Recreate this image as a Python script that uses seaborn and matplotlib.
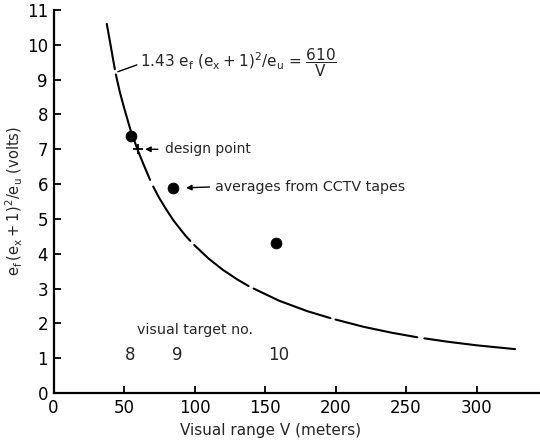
import numpy as np
import pandas as pd
import matplotlib
matplotlib.use("Agg")
import matplotlib.pyplot as plt
import seaborn as sns

# ---- data ----
# curve (drawn as broken segments)
curve_seg = [1, 1, 1,
             2, 2, 2, 2, 2, 2, 2,
             3, 3, 3, 3, 3, 3, 3,
             4, 4, 4, 4, 4,
             5, 5, 5, 5,
             6, 6, 6, 6,
             7, 7, 7, 7]
curve_v = [37.8, 40.0, 43.5,
           44.2, 47.0, 50.0, 55.0, 60.0, 64.0, 68.5,
           70.7, 75.0, 80.0, 85.0, 91.0, 94.0, 97.0,
           99.8, 110.0, 120.0, 130.0, 138.4,
           141.9, 160.0, 180.0, 196.4,
           200.0, 220.0, 240.0, 258.0,
           263.0, 280.0, 300.0, 327.3]
curve_y = [10.6, 10.1, 9.3,
           9.15, 8.65, 8.2, 7.5, 6.95, 6.55, 6.12,
           5.93, 5.6, 5.27, 4.96, 4.65, 4.5, 4.37,
           4.25, 3.86, 3.54, 3.27, 3.07,
           3.0, 2.65, 2.35, 2.15,
           2.11, 1.9, 1.73, 1.6,
           1.57, 1.47, 1.37, 1.26]

# measured averages from CCTV tapes
avg_v = [55, 85, 158]
avg_y = [7.38, 5.89, 4.31]

# design point
design_v = [60]
design_y = [7.0]

# visual target numbers
target_v = [54.3, 87.7, 160]
target_labels = ["8", "9", "10"]

x_ticks = [0, 50, 100, 150, 200, 250, 300]
y_ticks = list(range(0, 12))

curve_df = pd.DataFrame({"seg": curve_seg, "V": curve_v, "y": curve_y})
avg_df = pd.DataFrame({"V": avg_v, "y": avg_y})
design_df = pd.DataFrame({"V": design_v, "y": design_y})

sns.set_style("ticks")
plt.rcParams["font.family"] = ["DejaVu Sans"]
plt.rcParams["mathtext.default"] = "regular"

fig = plt.figure(figsize=(5.4, 4.4), dpi=100)
ax = fig.add_axes([53.5 / 540, 47 / 440, (540 - 53.5) / 540, 383 / 440])

sns.lineplot(data=curve_df, x="V", y="y", units="seg", estimator=None,
             color="black", linewidth=1.5, ax=ax, legend=False, sort=False)
sns.scatterplot(data=avg_df, x="V", y="y", color="black", s=60,
                edgecolor="black", ax=ax, legend=False, zorder=5)
sns.scatterplot(data=design_df, x="V", y="y", color="black", marker="+",
                s=60, linewidth=1.3, ax=ax, legend=False, zorder=5)

ax.set_xlim(0, 345)
ax.set_ylim(0, 11)
ax.set_xticks(x_ticks)
ax.set_yticks(y_ticks)
ax.tick_params(direction="in", length=5, width=1.3, labelsize=12,
               colors="black", pad=4)
for s in ["top", "right"]:
    ax.spines[s].set_visible(False)
for s in ["left", "bottom"]:
    ax.spines[s].set_linewidth(1.6)
    ax.spines[s].set_color("black")

ax.set_xlabel("Visual range V (meters)", fontsize=11)
ax.xaxis.set_label_coords(0.447, -0.078)
ax.set_ylabel(r"$e_f\,(e_x+1)^2/e_u$ (volts)", fontsize=10.5)
ax.yaxis.set_label_coords(-0.058, 0.5)

# formula label with leader line
ax.text(61.6, 9.5, r"1.43 $e_f$ $(e_x+1)^2/e_u$ = $\dfrac{610}{V}$",
        fontsize=11, va="center", ha="left")
ax.annotate("", xy=(43.8, 9.2), xytext=(61.0, 9.45),
            arrowprops=dict(arrowstyle="-", color="black", lw=1.0))

# design point
ax.text(79.2, 7.0, "design point", fontsize=10, va="center", ha="left")
ax.annotate("", xy=(63.0, 7.0), xytext=(76.0, 7.0),
            arrowprops=dict(arrowstyle="-|>", color="black", lw=1.0,
                            mutation_scale=8))

# averages
ax.text(114.7, 5.92, "averages from CCTV tapes", fontsize=10.3,
        va="center", ha="left")
ax.annotate("", xy=(92.0, 5.89), xytext=(112.6, 5.92),
            arrowprops=dict(arrowstyle="-|>", color="black", lw=1.0,
                            mutation_scale=8))

# visual target numbers
ax.text(59.3, 1.8, "visual target no.", fontsize=10.3, va="center", ha="left")
for v, lab in zip(target_v, target_labels):
    ax.text(v, 1.08, lab, fontsize=12, va="center", ha="center")

fig.savefig("out.png", dpi=100)
